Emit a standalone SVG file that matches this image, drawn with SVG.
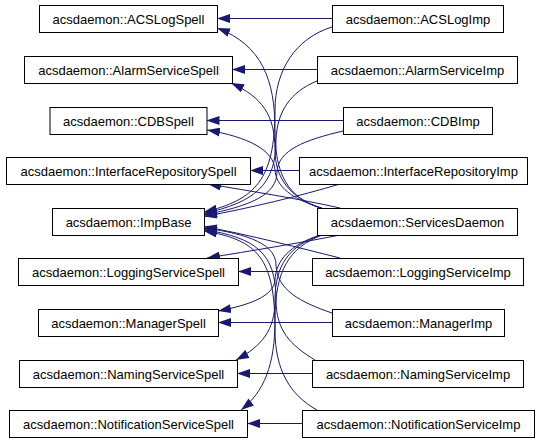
<svg xmlns="http://www.w3.org/2000/svg" width="541" height="443" viewBox="0 0 541 443">
<style>
.n rect{fill:#fff;stroke:#000;stroke-width:1}
.n text{font-family:"Liberation Sans",Arial,Helvetica,sans-serif;font-size:13px;fill:#000;text-anchor:middle}
.e path{fill:none;stroke:#191970;stroke-width:1;marker-end:url(#arr)}
</style>
<defs>
<marker id="arr" viewBox="0 0 13 9" refX="13" refY="4.5" markerWidth="13" markerHeight="9" orient="auto" markerUnits="userSpaceOnUse"><path d="M0,0 L13,4.5 L0,9 z" fill="#191970"/></marker>
</defs>
<rect width="541" height="443" fill="#fff"/>
<g class="e" id="connectors">
<path d="M332,18.5 H217"/>
<path d="M317,69.5 H232"/>
<path d="M343,120.5 H206.5"/>
<path d="M299,170.5 H250"/>
<path d="M312,271.5 H238"/>
<path d="M332,322.5 H218"/>
<path d="M312,373.5 H237"/>
<path d="M302,423.5 H247"/>
<path d="M332,27 C296,38 275,70 275,110 C275,180 255,200 204,212"/>
<path d="M317,81 C290,92 277,112 276,140 C276,185 255,202 204,213.5"/>
<path d="M343,131 C305,140 278,150 277,172 C277,195 250,206 204,215"/>
<path d="M340,184 C300,196 250,208 204,216.5"/>
<path d="M340,258 C300,248 250,235 204,226.5"/>
<path d="M332,313 C300,302 277,290 276,265 C276,245 250,234 204,228"/>
<path d="M315,360 C290,345 276,330 276,300 C276,252 255,238 204,229.5"/>
<path d="M317,410 C290,395 275,370 275,330 C275,258 258,240 204,231"/>
<path d="M320,208 C288,197 275,175 275,130 C275,80 262,45 217,28"/>
<path d="M321,208 C290,198 275,178 275,150 C275,115 262,97 231,83"/>
<path d="M322,208 C291,199 276,186 275,170 C274,150 248,137 207,130"/>
<path d="M340,208 C300,199 250,191 208,184"/>
<path d="M340,235 C300,243 250,251 207,258"/>
<path d="M320,235 C290,245 276,260 275,280 C274,296 250,305 218,311"/>
<path d="M321,235 C289,246 275,265 275,300 C275,330 262,346 236,360"/>
<path d="M322,235 C289,248 275,270 275,320 C275,365 264,392 241,410"/>
</g>
<g class="n" id="ACSLogSpell"><rect x="39.5" y="5.5" width="178" height="27"/><text x="128.5" y="23.5">acsdaemon::ACSLogSpell</text></g>
<g class="n" id="AlarmServiceSpell"><rect x="24.5" y="56.5" width="208" height="27"/><text x="128.5" y="74.5">acsdaemon::AlarmServiceSpell</text></g>
<g class="n" id="CDBSpell"><rect x="50" y="107.5" width="157" height="27"/><text x="128.5" y="125.5">acsdaemon::CDBSpell</text></g>
<g class="n" id="InterfaceRepositorySpell"><rect x="6.5" y="157.5" width="244" height="27"/><text x="128.5" y="175.5">acsdaemon::InterfaceRepositorySpell</text></g>
<g class="n" id="ImpBase"><rect x="52.5" y="208.5" width="152" height="27"/><text x="128.5" y="226.5">acsdaemon::ImpBase</text></g>
<g class="n" id="LoggingServiceSpell"><rect x="18.5" y="258.5" width="220" height="27"/><text x="128.5" y="276.5">acsdaemon::LoggingServiceSpell</text></g>
<g class="n" id="ManagerSpell"><rect x="38.5" y="309.5" width="180" height="27"/><text x="128.5" y="327.5">acsdaemon::ManagerSpell</text></g>
<g class="n" id="NamingServiceSpell"><rect x="19.5" y="360.5" width="218" height="27"/><text x="128.5" y="378.5">acsdaemon::NamingServiceSpell</text></g>
<g class="n" id="NotificationServiceSpell"><rect x="9.5" y="410.5" width="238" height="27"/><text x="128.5" y="428.5">acsdaemon::NotificationServiceSpell</text></g>
<g class="n" id="ACSLogImp"><rect x="332.5" y="5.5" width="171" height="27"/><text x="418" y="23.5">acsdaemon::ACSLogImp</text></g>
<g class="n" id="AlarmServiceImp"><rect x="317.5" y="56.5" width="200" height="27"/><text x="417.5" y="74.5">acsdaemon::AlarmServiceImp</text></g>
<g class="n" id="CDBImp"><rect x="343.5" y="107.5" width="149" height="27"/><text x="418" y="125.5">acsdaemon::CDBImp</text></g>
<g class="n" id="InterfaceRepositoryImp"><rect x="299.5" y="157.5" width="228" height="27"/><text x="413.5" y="175.5">acsdaemon::InterfaceRepositoryImp</text></g>
<g class="n" id="ServicesDaemon"><rect x="317.5" y="208.5" width="200" height="27"/><text x="417.5" y="226.5">acsdaemon::ServicesDaemon</text></g>
<g class="n" id="LoggingServiceImp"><rect x="312.5" y="258.5" width="211" height="27"/><text x="418" y="276.5">acsdaemon::LoggingServiceImp</text></g>
<g class="n" id="ManagerImp"><rect x="332.5" y="309.5" width="172" height="27"/><text x="418.5" y="327.5">acsdaemon::ManagerImp</text></g>
<g class="n" id="NamingServiceImp"><rect x="312.5" y="360.5" width="211" height="27"/><text x="418" y="378.5">acsdaemon::NamingServiceImp</text></g>
<g class="n" id="NotificationServiceImp"><rect x="302.5" y="410.5" width="232" height="27"/><text x="418.5" y="428.5">acsdaemon::NotificationServiceImp</text></g>
</svg>
